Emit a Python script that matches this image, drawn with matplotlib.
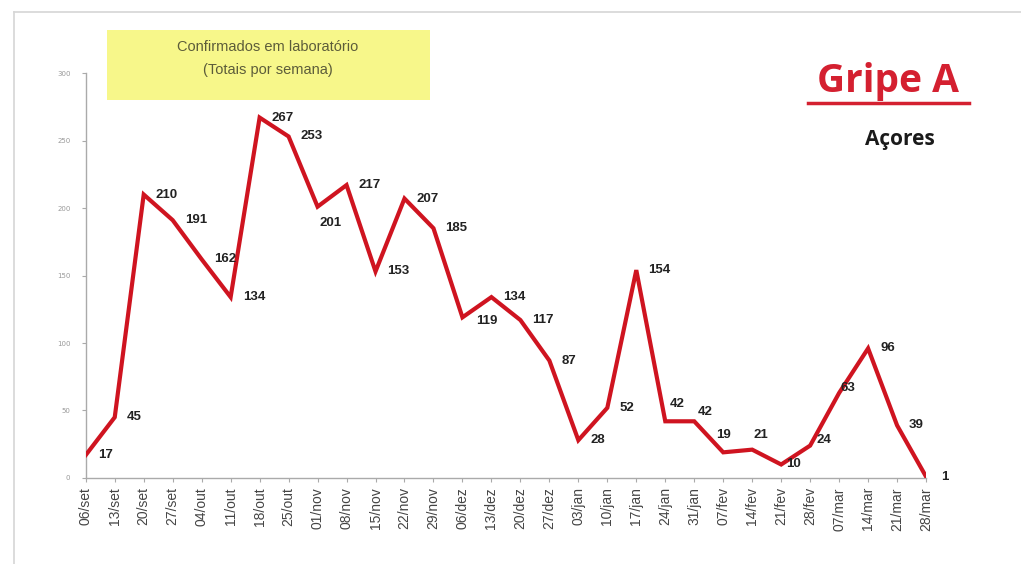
import matplotlib.pyplot as plt
from matplotlib.lines import Line2D

# weekly confirmed cases, Sep to Mar
semanas = ['06/set', '13/set', '20/set', '27/set', '04/out', '11/out', '18/out',
           '25/out', '01/nov', '08/nov', '15/nov', '22/nov', '29/nov', '06/dez',
           '13/dez', '20/dez', '27/dez', '03/jan', '10/jan', '17/jan', '24/jan',
           '31/jan', '07/fev', '14/fev', '21/fev', '28/fev', '07/mar', '14/mar',
           '21/mar', '28/mar']
casos = [17, 45, 210, 191, 162, 134, 267, 253, 201, 217, 153, 207, 185, 119,
         134, 117, 87, 28, 52, 154, 42, 42, 19, 21, 10, 24, 63, 96, 39, 1]
y_ticks = [0, 50, 100, 150, 200, 250, 300]

# label nudges (pixels) where the default spot clashes with the line
nudge = {8: (2, -16), 13: (14, -4), 20: (4, 17), 21: (4, 9), 22: (-7, 17),
         23: (1, 15), 24: (5, 0), 25: (6, 6), 26: (1, 5), 29: (15, 0)}

fig = plt.figure(figsize=(10.21, 5.64), dpi=100)
ax = fig.add_axes([0.084, 0.1525, 0.823, 0.718])

x = list(range(len(casos)))
ax.plot(x, casos, color='#CF1420', lw=3.0, solid_joinstyle='miter', zorder=3)

for i, v in enumerate(casos):
    dx, dy = nudge.get(i, (12, 0))
    ax.annotate(str(v), (i, v), xytext=(dx, dy), textcoords='offset pixels',
                ha='left', va='center', fontsize=9.5, fontweight='bold',
                family='Liberation Sans', color='#222222')

ax.set_xlim(0, len(casos) - 1)
ax.set_ylim(0, 300)
ax.set_yticks(y_ticks)
ax.set_yticklabels([str(t) for t in y_ticks], fontsize=5, color='#999999')
ax.set_xticks(x)
ax.set_xticklabels(semanas, rotation=90, fontsize=10, family='Liberation Sans',
                   color='#444444')
ax.tick_params(axis='both', length=3, color='#aaaaaa', width=0.8)
ax.tick_params(axis='y', pad=8)
for s in ['top', 'right']:
    ax.spines[s].set_visible(False)
for s in ['left', 'bottom']:
    ax.spines[s].set_color('#aaaaaa')
    ax.spines[s].set_linewidth(1.0)

# yellow caption box
fig.patches.append(plt.Rectangle((107 / 1021, 1 - 100 / 564), 323 / 1021, 70 / 564,
                                 transform=fig.transFigure, facecolor='#F7F78A',
                                 edgecolor='none', zorder=0))
fig.text(268 / 1021, 1 - 47 / 564, 'Confirmados em laboratório', ha='center',
         va='center', fontsize=10.5, color='#5c5c3a', family='Liberation Sans')
fig.text(268 / 1021, 1 - 70 / 564, '(Totais por semana)', ha='center',
         va='center', fontsize=10.5, color='#5c5c3a', family='Liberation Sans')

# title
fig.text(888 / 1021, 1 - 82 / 564, 'Gripe A', ha='center', va='center',
         fontsize=28, fontweight='bold', color='#D42030', family='Open Sans')
fig.add_artist(Line2D([808 / 1021, 969 / 1021], [1 - 103 / 564, 1 - 103 / 564],
                      color='#D42030', lw=2.5, transform=fig.transFigure))
fig.text(900 / 1021, 1 - 139 / 564, 'Açores', ha='center', va='center',
         fontsize=15, fontweight='bold', color='#1a1a1a', family='Open Sans')

# thin frame on top and left
fig.add_artist(Line2D([14 / 1021, 1.0], [1 - 12 / 564, 1 - 12 / 564],
                      color='#d6d6d6', lw=1.2, transform=fig.transFigure))
fig.add_artist(Line2D([14 / 1021, 14 / 1021], [1 - 12 / 564, 0.0],
                      color='#d6d6d6', lw=1.2, transform=fig.transFigure))

fig.savefig('out.png', dpi=100, facecolor='white')
